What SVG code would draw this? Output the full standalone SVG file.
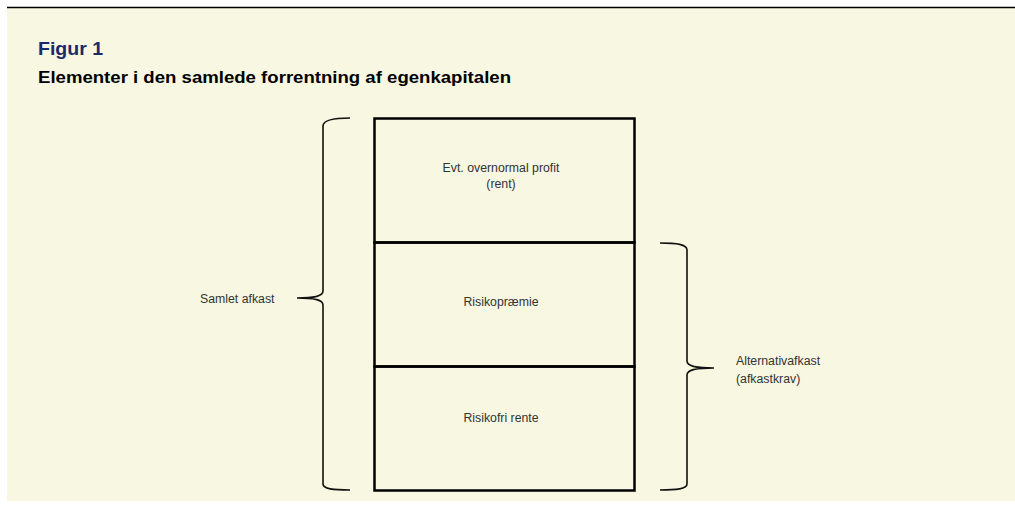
<svg xmlns="http://www.w3.org/2000/svg" width="1015" height="505" viewBox="0 0 1015 505">
<style>
.lbl{font-family:"Liberation Sans",Arial,sans-serif;font-size:12.3px;fill:#333;}
.box{fill:none;stroke:#000;stroke-width:2.5;}
.brace{fill:none;stroke:#111;stroke-width:1.6;}
</style>
<rect x="0" y="0" width="1015" height="505" fill="#ffffff"/>
<rect x="7" y="8" width="1008" height="493" fill="#F8F7E1"/>
<line x1="7" y1="7.5" x2="1015" y2="7.5" stroke="#000" stroke-width="1.5"/>
<text x="38" y="55" font-family="Liberation Sans,Arial,sans-serif" font-size="19" font-weight="bold" fill="#1B2A6B" textLength="65" lengthAdjust="spacingAndGlyphs">Figur 1</text>
<text x="38" y="83" font-family="Liberation Sans,Arial,sans-serif" font-size="17" font-weight="bold" fill="#000" textLength="473" lengthAdjust="spacingAndGlyphs">Elementer i den samlede forrentning af egenkapitalen</text>
<g id="node-profit">
<rect class="box" x="374.5" y="118.5" width="260" height="124"/>
<text class="lbl" x="501" y="172" text-anchor="middle">Evt. overnormal profit</text>
<text class="lbl" x="501" y="188" text-anchor="middle">(rent)</text>
</g>
<g id="node-risikopraemie">
<rect class="box" x="374.5" y="242.5" width="260" height="124"/>
<text class="lbl" x="501" y="306" text-anchor="middle">Risikopræmie</text>
</g>
<g id="node-risikofri">
<rect class="box" x="374.5" y="366.5" width="260" height="124"/>
<text class="lbl" x="501" y="422" text-anchor="middle">Risikofri rente</text>
</g>
<g id="connectors">
<path class="brace" d="M350,118 C333,118 323,120 323,126 L323,291 C323,296 315,298 297,298 C315,298 323,300 323,305 L323,484 C323,489 333,490 350,490"/>
<path class="brace" d="M660,243 C676,243 687,244 687,250 L687,361 C687,366 695,368 714,368 C695,368 687,370 687,375 L687,484 C687,489 676,490 660,490"/>
</g>
<g id="node-samlet">
<text class="lbl" x="200" y="303">Samlet afkast</text>
</g>
<g id="node-alternativ">
<text class="lbl" x="736" y="365">Alternativafkast</text>
<text class="lbl" x="736" y="383">(afkastkrav)</text>
</g>
</svg>
